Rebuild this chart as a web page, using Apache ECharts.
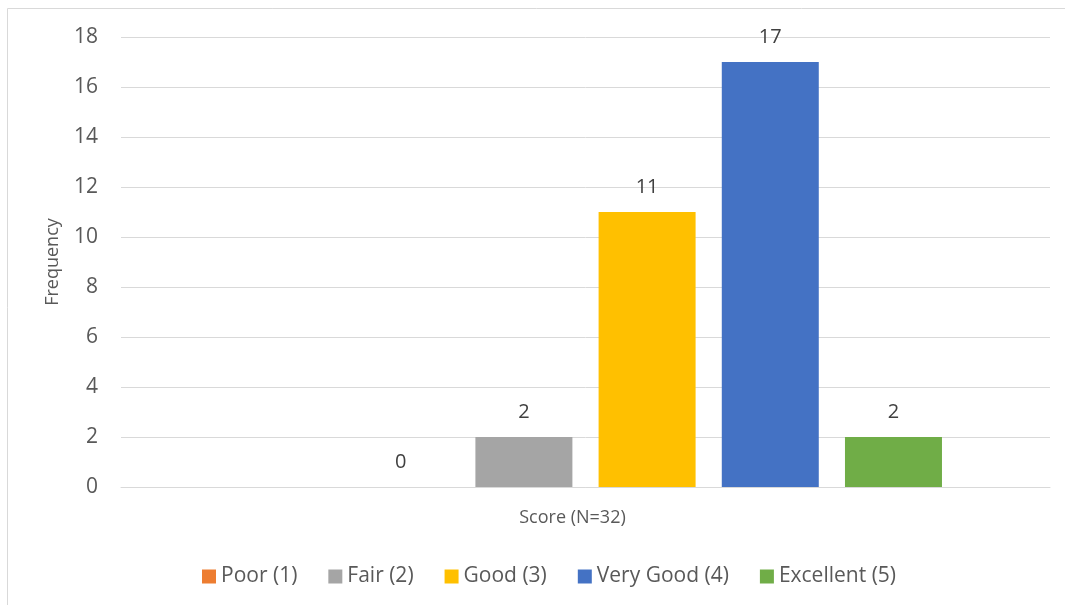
<!DOCTYPE html>
<html>
<head>
<meta charset="utf-8">
<title>Score frequency</title>
<script src="https://cdn.jsdelivr.net/npm/echarts@6/dist/echarts.min.js"></script>
<style>
  html, body { margin: 0; padding: 0; background: #ffffff; }
  #chart { width: 1065px; height: 605px; }
</style>
</head>
<body>
<div id="chart"></div>
<script>
// Single category holding the whole score distribution
const categories = ['Score (N=32)'];
// Rating levels (legend entries) and their counts
const seriesNames = ['Poor (1)', 'Fair (2)', 'Good (3)', 'Very Good (4)', 'Excellent (5)'];
const seriesValues = [0, 2, 11, 17, 2];
const seriesColors = ['#ED7D31', '#A5A5A5', '#FFC000', '#4472C4', '#70AD47'];
// Y axis range
const yMin = 0, yMax = 18, yStep = 2;

const FONT = '"Open Sans", "Noto Sans", sans-serif';

const chart = echarts.init(document.getElementById('chart'), null, { renderer: 'canvas' });

// An empty leading slot keeps the group layout of the original workbook chart
const series = [{
  name: '__blank',
  type: 'bar',
  data: [null],
  barWidth: 97,
  barGap: '27%',
  silent: true
}];
seriesNames.forEach((name, i) => {
  series.push({
    name: name,
    type: 'bar',
    data: [seriesValues[i]],
    barWidth: 97,
    barGap: '27%',
    itemStyle: { color: seriesColors[i] },
    label: {
      show: true,
      position: 'top',
      distance: 15,
      color: '#404040',
      fontSize: 20,
      fontFamily: FONT
    }
  });
});

chart.setOption({
  animation: false,
  textStyle: { fontFamily: FONT },
  graphic: [{
    type: 'rect',
    shape: { x: 7.5, y: 8.5, width: 1100, height: 700 },
    style: { fill: 'none', stroke: '#d9d9d9', lineWidth: 1 },
    silent: true,
    z: -10
  }],
  grid: { left: 121, right: 15, top: 37, bottom: 118 },
  legend: {
    data: seriesNames,
    left: 197,
    top: 561,
    itemWidth: 14,
    itemHeight: 14,
    itemGap: 31,
    icon: 'rect',
    textStyle: { color: '#595959', fontSize: 21, fontFamily: FONT }
  },
  xAxis: {
    type: 'category',
    data: categories,
    axisLine: { show: true, lineStyle: { color: '#d9d9d9', width: 1 } },
    axisTick: { show: false },
    axisLabel: {
      color: '#595959',
      fontSize: 18,
      fontFamily: FONT,
      margin: 22,
      padding: [0, 26, 0, 0]
    }
  },
  yAxis: {
    type: 'value',
    min: yMin,
    max: yMax,
    interval: yStep,
    name: 'Frequency',
    nameLocation: 'middle',
    nameGap: 59,
    nameRotate: 90,
    nameTextStyle: { color: '#595959', fontSize: 18, fontFamily: FONT },
    axisLine: { show: false },
    axisTick: { show: false },
    axisLabel: { color: '#595959', fontSize: 21, fontFamily: FONT, margin: 23 },
    splitLine: { lineStyle: { color: '#d9d9d9', width: 1 } }
  },
  series: series
});
</script>
</body>
</html>
